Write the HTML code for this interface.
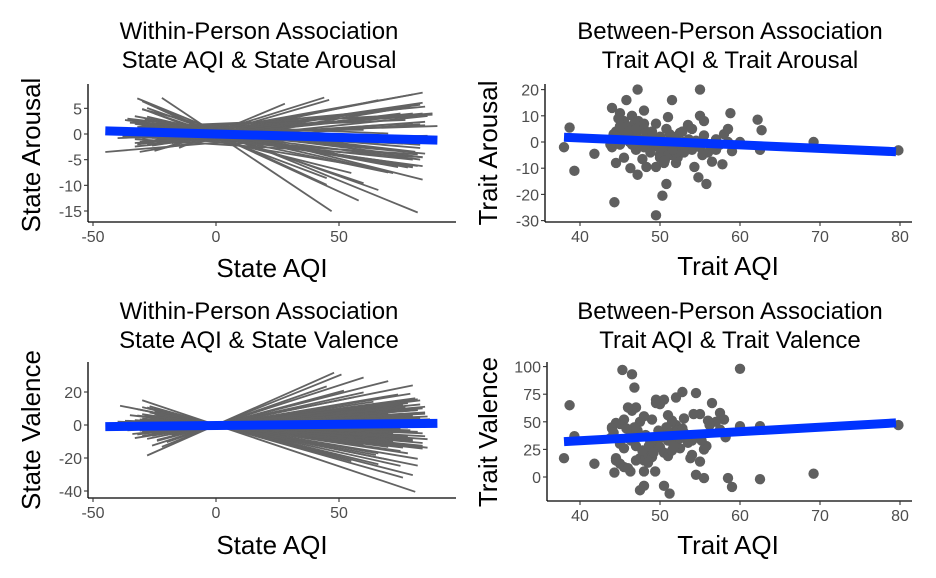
<!DOCTYPE html>
<html><head><meta charset="utf-8"><style>
body{margin:0;background:#fff}
svg{display:block;font-family:"Liberation Sans",Arial,sans-serif}
.tt{font-size:24px;fill:#000;text-anchor:middle}
.at{font-size:26px;fill:#000;text-anchor:middle}
.tk{font-size:16px;fill:#4d4d4d}
</style></head><body>
<svg id="c" width="936" height="578" viewBox="0 0 936 578">
<text class="tt" x="259" y="39">Within-Person Association</text>
<text class="tt" x="259" y="68">State AQI &amp; State Arousal</text>
<text class="tt" x="730" y="39">Between-Person Association</text>
<text class="tt" x="730" y="68">Trait AQI &amp; Trait Arousal</text>
<text class="tt" x="259" y="319">Within-Person Association</text>
<text class="tt" x="259" y="348">State AQI &amp; State Valence</text>
<text class="tt" x="730" y="319">Between-Person Association</text>
<text class="tt" x="730" y="348">Trait AQI &amp; Trait Valence</text>
<text class="at" x="272" y="277">State AQI</text>
<text class="at" x="728" y="275">Trait AQI</text>
<text class="at" x="272" y="554">State AQI</text>
<text class="at" x="728" y="554">Trait AQI</text>
<text class="at" transform="translate(40,155) rotate(-90)">State Arousal</text>
<text class="at" transform="translate(497,153) rotate(-90)">Trait Arousal</text>
<text class="at" transform="translate(40,430) rotate(-90)">State Valence</text>
<text class="at" transform="translate(497,432) rotate(-90)">Trait Valence</text>
</svg>
<script>
// Top-left: per-person lines (state arousal)
const tlMin=[-22,-32,-30,-28,-26,-25,-30,-33,-35,-20,-28,-31,-36,-24,-29,-33,-27,-22,-30,-34,-38,-45,-40,-35,-26,-30,-28,-32,-24,-20,-15,-25,-18,-30,-33,-27,-22,-35,-29,-31,-23,-36,-26,-21,-34,-37,-33,-30,-28,-35,-32,-26,-29,-31,-36,-24,-27,-34,-30,-33,-28,-25,-38,-32,-29];
const tlMax=[47,82,58,66,45,60,84,78,80,70,82,83,80,75,72,84,60,55,45,80,83,40,85,82,78,80,75,84,84,44,28,46,66,88,86,90,80,70,83,76,83,60,85,77,82,84,80,78,83,76,85,82,74,86,81,79,84,77,83,85,72,80,82,88,84];
const tlSlope=[-0.32,-0.195,-0.22,-0.17,-0.22,-0.16,-0.12,-0.09,-0.08,-0.1,-0.07,-0.06,-0.05,-0.05,-0.04,-0.03,-0.08,-0.12,-0.18,-0.02,-0.01,0.04,0.02,0.03,0.04,0.05,0.06,0.07,0.09,0.15,0.2,0.14,0.1,0.04,0.05,0.015,0.03,-0.02,-0.035,0.08,0.065,0,-0.045,0.02,-0.015,-0.06,-0.075,0.055,0.035,-0.025,0.045,0.075,-0.09,0.01,-0.055,0.06,-0.065,0.025,-0.04,0.035,-0.11,0.085,-0.03,0.02,0.05];
const tlInt=[0,0.7,-0.2,0.3,0,0,1.2,0.5,0,-0.5,-0.5,0,-1,0.5,-1,-2,-1.5,-1,-0.5,0.3,-1,-1.7,0,1,0.3,0,-0.5,0.2,0.5,0.5,0.3,0.2,0,0.5,-0.8,0.2,-0.3,1.5,0.8,-1,0.3,0.8,0,1.2,-0.4,0.5,-0.5,0.8,-1,0,1.5,-0.3,0.2,-1.2,1,0.4,-0.8,1.8,0.6,-0.6,0.3,0.9,-1.5,2,-0.2];
const tlFit=[[-45,0.6],[90,-1.2]];
const tlXTicks=[-50,0,50], tlYTicks=[5,0,-5,-10,-15];
// Bottom-left: per-person lines (state valence)
const blMin=[-30,-28,-25,-32,-27,-24,-30,-22,-35,-26,-31,-28,-40,-33,-44,-36,-29,-25,-31,-27,-34,-22,-30,-26,-20,-24,-18,-28,-32,-23,-29,-37,-21,-27,-30,-25,-39,-34,-33,-30,-28,-36,-32,-29,-31,-35,-26,-33,-30,-27,-34,-29,-32,-28,-37,-31,-26,-35,-30,-33,-22,-26,-24,-28,-20,-30,-27,-25];
const blMax=[81,80,75,70,65,82,78,60,84,72,80,85,82,75,88,84,83,80,70,85,76,82,64,74,56,52,60,48,80,84,78,72,70,82,86,66,82,86,78,84,80,85,76,83,87,79,81,84,77,86,80,75,83,85,78,82,86,80,84,79,51,60,70,80,45,66,76,55];
const blSlope=[-0.5,-0.38,-0.33,-0.3,-0.28,-0.25,-0.22,-0.2,-0.17,-0.14,-0.11,-0.08,-0.05,-0.03,0,0.02,0.05,0.08,0.1,0.13,0.16,0.19,0.22,0.25,0.3,0.4,0.33,0.66,0.07,-0.15,0.17,-0.07,-0.19,0.11,0.03,-0.26,-0.3,0.06,-0.09,0.12,-0.12,0.09,-0.18,0.15,0.04,-0.04,0.2,-0.06,0.14,-0.1,0.01,-0.21,0.18,0.08,-0.02,0.11,-0.16,0.05,-0.13,0.24,0.6,0.48,0.38,0.3,0.52,-0.36,-0.42,-0.4];
const blFit=[[-45,-1],[90,1]];
const blXTicks=[-50,0,50], blYTicks=[20,0,-20,-40];
// Top-right: trait arousal points
const trX=[38,38.7,39.3,41.8,44,44.3,44.5,45.5,45.8,46.3,47.2,47.2,48,47.8,48.3,49.5,49.5,50.3,49.5,50.8,51,51.5,55,55,55.5,54.3,54.8,55.8,56.5,57.8,58.8,58,58.5,60,62.2,62.7,62.5,69.2,79.8,59,57,55.5,53.5,54,52.5,52,51,51.5,52,50.5,50,49,48.5,48,47.5,47,46.5,46,45.5,45,44.5,44,44.5,45,45.5,46,46.5,47,47.5,48,48.5,49,50,50.5,51,52.5,53,53.5,54,55,56,56.5,57.5,58.5,45,44.8,46.8,48.2,49.8,51.2,52.2,53,50.8,47.3,46.2,44.2,43.8,49.2,50.2,55.3,56.2,57,54.5,51.8,52.8,48.8,46,47,48,45,51,52,50,53,49,47.5,46.5,44.6,51.6,52.6,53.6,50.6];
const trY=[-2,5.5,-11,-4.5,13,-23,-8,-6,16,-10,-12.5,20,12,-6.5,-9.5,-9.5,7,-20.5,-28,-16,9.5,16,20,10,8,-9.5,-13.5,-16,-7.5,-8.5,11,3,5,0,8.5,4.5,-3,0,-3.2,-3.5,-3,2.5,6.5,5,3.5,2,-3,-5,-8,-8,-5,-1,3,5,6,3,4,2,5,3,4,-2,1,-1,8,6,10,-3,0,-2,1,4,2,0,-1,-2,0,-1,-3,-2,-4,-2,-1,0,11,9,7,4,-2,3,-6,-4,5,8,0,3,-1,0.5,-3.5,-5,-1,1,0.5,1,4,-4,4,5,7,6,-5,-4,-6,-2,2,1,-1,2,-3,-1,1,-7];
const trFit=[[38,1.8],[79.5,-3.7]];
const trXTicks=[40,50,60,70,80], trYTicks=[20,10,0,-10,-20,-30];
// Bottom-right: trait valence points
const brX=[38,38.7,39.3,41.8,44,44.3,44.5,45.3,46.5,46.8,46.3,47.5,48,48,49.4,50.5,51.2,49.5,50.5,52,52.8,54.5,56.5,57.5,60,60,62.5,62.5,58.5,59,54.5,55.5,69.2,79.8,55,55.5,55.8,54,53.8,58,58.3,57,56,55,54.2,53,52,51.5,51,50,49.5,49,48,47.5,47,46.5,46,45.5,45,44.5,44,43.8,44.2,45,45.5,46,46.5,47,47.5,48,48.5,49,49.5,50,50.5,51,51.5,52,52.5,53,53.5,54,54.5,45,45.5,46,44.5,47,48.5,49,50,50.8,51.3,52.2,48.2,47.2,46.8,45.8,48.8,49.8,51,52.5,53.2,55.2,57.5,58.2,56.2,47.8,48.6,50.3,51.7,46.4,49.2,52.8];
const brY=[17,65,37,12,45,4,17,97,93,81,5,-12,-8,5,5,-8,-15,70,70,72,77,76,67,58,98,46,46,-2,-1,-9,2,-1,3,47,14,25,28,20,17,52,39,50,51,57,57,53,47,51,56,66,67,52,55,50,63,60,63,52,48,49,44,35,40,30,26,35,40,28,17,15,20,25,30,27,22,19,24,30,35,40,31,33,36,12,9,8,15,15,13,18,35,45,40,42,38,42,45,44,32,42,33,26,37,33,43,36,47,24,28,38,28,33,22,44];
const brFit=[[38,32],[79.5,49]];
const brXTicks=[40,50,60,70,80], brYTicks=[100,75,50,25,0];

const svg=document.getElementById('c');
const NS='http://www.w3.org/2000/svg';
function mk(tag,attrs){const e=document.createElementNS(NS,tag);for(const k in attrs)e.setAttribute(k,attrs[k]);svg.appendChild(e);return e;}
function lin(d0,d1,r0,r1){return v=>r0+(v-d0)*(r1-r0)/(d1-d0);}
const P={
 tl:{x:lin(0,50,216,339),y:lin(0,-15,134,211),L:88,R:456,T:84,B:222},
 bl:{x:lin(0,50,216,339),y:lin(0,-40,425,491),L:88,R:456,T:362,B:498},
 tr:{x:lin(40,80,580,900),y:lin(0,-30,142,220.6),L:545,R:912,T:84,B:222},
 br:{x:lin(40,80,580,900),y:lin(0,100,477,366.6),L:547,R:912,T:362,B:501}
};
function axes(k,xt,yt){
 const p=P[k];
 let e=mk('line',{x1:p.L,y1:p.T,x2:p.L,y2:p.B,stroke:'#000','stroke-width':1.3});
 
 e=mk('line',{x1:p.L,y1:p.B,x2:p.R,y2:p.B,stroke:'#000','stroke-width':1.3});
 
 xt.forEach(v=>{const X=p.x(v);
  let t=mk('line',{x1:X,y1:p.B,x2:X,y2:p.B+4,stroke:'#333','stroke-width':1.1});
  
  t=mk('text',{x:X,y:p.B+20,'text-anchor':'middle',class:'tk'});t.textContent=v;
  });
 yt.forEach(v=>{const Y=p.y(v);
  let t=mk('line',{x1:p.L-4,y1:Y,x2:p.L,y2:Y,stroke:'#333','stroke-width':1.1});
  
  t=mk('text',{x:p.L-6,y:Y+6,'text-anchor':'end',class:'tk'});t.textContent=v;
  });
}
function fit(k,f){const p=P[k];
 const e=mk('line',{x1:p.x(f[0][0]),y1:p.y(f[0][1]),x2:p.x(f[1][0]),y2:p.y(f[1][1]),stroke:'#0033ff','stroke-width':9});
 }
// TL
tlMin.forEach((m,i)=>{const p=P.tl,M=tlMax[i];
 const e=mk('line',{x1:p.x(m),y1:p.y(tlInt[i]+tlSlope[i]*m),x2:p.x(M),y2:p.y(tlInt[i]+tlSlope[i]*M),stroke:'#636363','stroke-width':1.8});
 });
fit('tl',tlFit);axes('tl',tlXTicks,tlYTicks);
// BL
blMin.forEach((m,i)=>{const p=P.bl,M=blMax[i];
 const e=mk('line',{x1:p.x(m),y1:p.y(blSlope[i]*m),x2:p.x(M),y2:p.y(blSlope[i]*M),stroke:'#636363','stroke-width':1.8});
 });
fit('bl',blFit);axes('bl',blXTicks,blYTicks);
// TR
trX.forEach((x,i)=>{const p=P.tr;
 const e=mk('circle',{cx:p.x(x),cy:p.y(trY[i]),r:5.2,fill:'#5f5f5f'});
 });
fit('tr',trFit);axes('tr',trXTicks,trYTicks);
// BR
brX.forEach((x,i)=>{const p=P.br;
 const e=mk('circle',{cx:p.x(x),cy:p.y(brY[i]),r:5.2,fill:'#5f5f5f'});
 });
fit('br',brFit);axes('br',brXTicks,brYTicks);
</script>
</body></html>
